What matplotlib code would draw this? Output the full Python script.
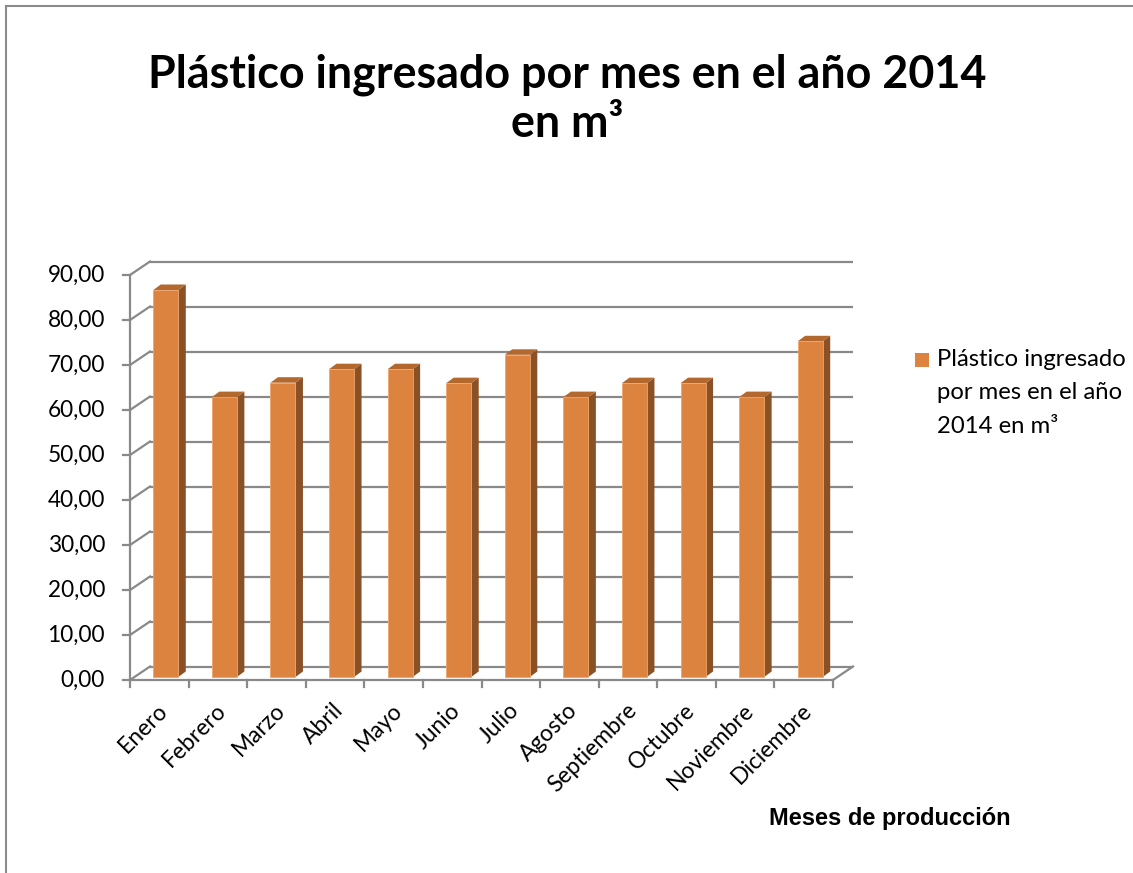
import matplotlib
matplotlib.use("Agg")
import matplotlib.pyplot as plt
from matplotlib.patches import Polygon, Rectangle
from matplotlib.lines import Line2D

# data
meses = ["Enero", "Febrero", "Marzo", "Abril", "Mayo", "Junio", "Julio",
         "Agosto", "Septiembre", "Octubre", "Noviembre", "Diciembre"]
plastico = [86.0, 62.2, 65.4, 68.4, 68.4, 65.3, 71.6, 62.2, 65.3, 65.3, 62.2, 74.6]
y_ticks = [0, 10, 20, 30, 40, 50, 60, 70, 80, 90]
y_labels = ["0,00", "10,00", "20,00", "30,00", "40,00", "50,00",
            "60,00", "70,00", "80,00", "90,00"]

FONT = ["Lato", "DejaVu Sans"]
GRID = "#898989"
FRONT, TOP, SIDE = "#DC843F", "#B3682D", "#8A5126"

W, H = 1133, 873
fig = plt.figure(figsize=(W / 100, H / 100), dpi=100)
ax = fig.add_axes([0, 0, 1, 1])

# linear pixel mapping: category 0 -> x=130px, 12 -> 833px; value 0 -> y=680px, 90 -> 275px
sx = (833 - 130) / 12.0
sy = (680 - 275) / 90.0
ax.set_xlim(-130 / sx, (W - 130) / sx)
ax.set_ylim(-(H - 680) / sy, 680 / sy)
ax.axis("off")

px = 1 / sx   # one pixel in category units
py = 1 / sy   # one pixel in value units
wdx, wdy = 20 * px, 13.5 * py   # wall depth offset
n = len(meses)

# back wall gridlines and side-wall diagonals
for v, lab in zip(y_ticks, y_labels):
    ax.plot([wdx, n + wdx], [v + wdy, v + wdy], color=GRID, lw=1.6, zorder=1,
            solid_capstyle="butt")
    ax.plot([0, wdx], [v, v + wdy], color=GRID, lw=1.6, zorder=1)
    ax.plot([-7 * px, 0], [v, v], color=GRID, lw=1.6, zorder=1)
    ax.text(-25 * px, v, lab, ha="right", va="center",
            fontsize=16.3, family=FONT, color="black")
ax.plot([0, 0], [0, y_ticks[-1]], color=GRID, lw=1.6, zorder=1)

# floor front edge, right edge and category ticks
ax.plot([0, n], [0, 0], color=GRID, lw=1.6, zorder=1)
ax.plot([n, n + wdx], [0, wdy], color=GRID, lw=1.6, zorder=1)
for i in range(n + 1):
    ax.plot([i, i], [0, -7 * py], color=GRID, lw=1.6, zorder=1)

# 3d-looking columns
bw = 25 * px
off_x, off_y = 6.5 * px, 3 * py
ddx, ddy = 7.5 * px, 5.5 * py
for i, v in enumerate(plastico):
    x0 = i + 0.5 - bw / 2 + off_x
    y0 = off_y
    ax.add_patch(Polygon([[x0 + bw, y0], [x0 + bw + ddx, y0 + ddy],
                          [x0 + bw + ddx, y0 + v + ddy], [x0 + bw, y0 + v]],
                         closed=True, fc=SIDE, ec="none", zorder=3))
    ax.add_patch(Polygon([[x0, y0 + v], [x0 + bw, y0 + v],
                          [x0 + bw + ddx, y0 + v + ddy], [x0 + ddx, y0 + v + ddy]],
                         closed=True, fc=TOP, ec="none", zorder=3))
    ax.add_patch(Rectangle((x0, y0), bw, v, fc=FRONT, ec="#EFA56A", lw=0.6, zorder=4))

# category labels
for i, m in enumerate(meses):
    ax.text(i + 0.5 + 5 * px, -27 * py, m, rotation=45, rotation_mode="anchor",
            ha="right", va="center", fontsize=16.5, family=FONT, color="black")

# titles and legend
fig.text(567 / W, 1 - 75 / H, "Plástico ingresado por mes en el año 2014",
         ha="center", va="center", fontsize=32.3, fontweight="bold", family=FONT)
fig.text(567 / W, 1 - 124 / H, "en m³", ha="center", va="center",
         fontsize=32.3, fontweight="bold", family=FONT)
fig.text(890 / W, 1 - 818 / H, "Meses de producción", ha="center", va="center",
         fontsize=17, fontweight="bold", family=["Liberation Sans", "DejaVu Sans"])

fig.add_artist(Rectangle((915 / W, 1 - 367 / H), 14 / W, 14 / H,
                         transform=fig.transFigure, fc=FRONT, ec="none"))
for k, line in enumerate(["Plástico ingresado", "por mes en el año", "2014 en m³"]):
    fig.text(937 / W, 1 - (360 + 33 * k) / H, line, ha="left", va="center",
             fontsize=17.2, family=FONT)

# chart frame (only top and left edges are visible in the reference)
fig.add_artist(Line2D([6 / W, 6 / W], [0, 1 - 6 / H], transform=fig.transFigure,
                      color="#8C8C8C", lw=1.5))
fig.add_artist(Line2D([6 / W, 1], [1 - 6 / H, 1 - 6 / H], transform=fig.transFigure,
                      color="#8C8C8C", lw=1.5))

fig.savefig("out.png", dpi=100)
